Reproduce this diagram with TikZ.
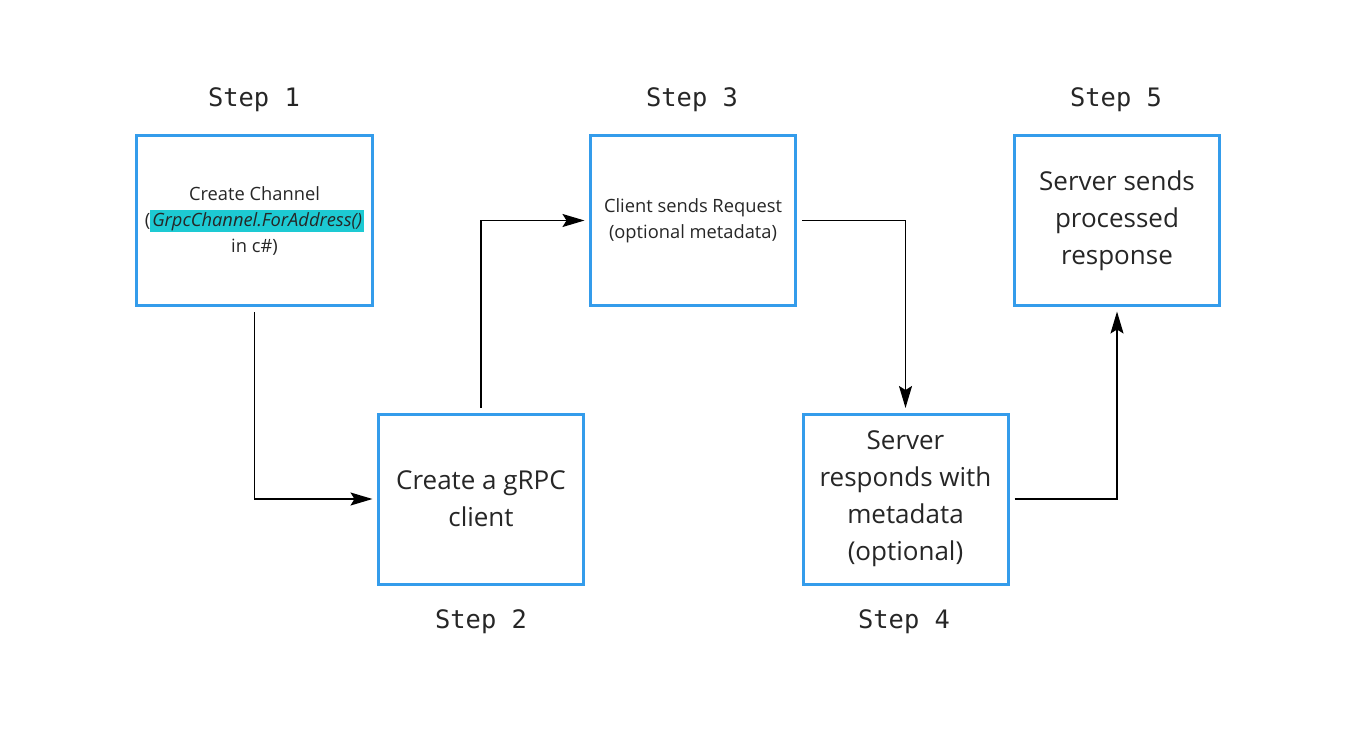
\documentclass[tikz,border=0pt]{standalone}
\usepackage{fontspec}
\setmainfont{Open Sans}
\setmonofont{DejaVu Sans Mono}
\usetikzlibrary{arrows.meta}
\definecolor{boxblue}{HTML}{349CEB}
\definecolor{hlcyan}{HTML}{1DCAD3}
\newcommand{\hlcode}[1]{{\setlength{\fboxsep}{2pt}\colorbox{hlcyan}{\itshape #1}}}

\begin{document}
\begin{tikzpicture}[x=1pt,y=-1pt,
  stepbox/.style={draw=boxblue,line width=3pt,minimum width=205pt,minimum height=170pt,
    align=center,inner sep=0pt},
  smalltext/.style={font=\fontsize{18.3}{26}\selectfont,text=black!85},
  bigtext/.style={font=\fontsize{26}{37}\selectfont,text=black!85},
  steplabel/.style={font=\ttfamily\fontsize{25.4}{28}\selectfont,text=black!85},
  flow/.style={-{Stealth[length=22pt,width=13pt,inset=4pt]},line width=1.6pt,
    shorten <=5pt,shorten >=4.5pt}]
\useasboundingbox (0,0) rectangle (1357,736);

% boxes
\node[stepbox,smalltext,minimum width=236pt] (s1) at (254.5,220.5)
  {Create Channel\\(\hlcode{GrpcChannel.ForAddress()}\\in c\#)};
\node[stepbox,bigtext] (s2) at (481,499) {Create a gRPC\\client};
\node[stepbox,smalltext] (s3) at (693,220.5) {Client sends Request\\(optional metadata)};
\node[stepbox,bigtext] (s4) at (905.5,499) {Server\\responds with\\metadata\\(optional)};
\node[stepbox,bigtext] (s5) at (1117,220.5) {Server sends\\processed\\response};

% step labels
\node[steplabel] (l1) at (254,100) {Step 1};
\node[steplabel] (l2) at (481,622) {Step 2};
\node[steplabel] (l3) at (692,100) {Step 3};
\node[steplabel] (l4) at (904,622) {Step 4};
\node[steplabel] (l5) at (1116,100) {Step 5};

% connectors
\draw[flow] (s1) |- (s2);
\draw[flow] (s2) |- (s3);
\draw[flow] (s3) -| (s4);
\draw[flow] (s4) -| (s5);
\end{tikzpicture}
\end{document}
